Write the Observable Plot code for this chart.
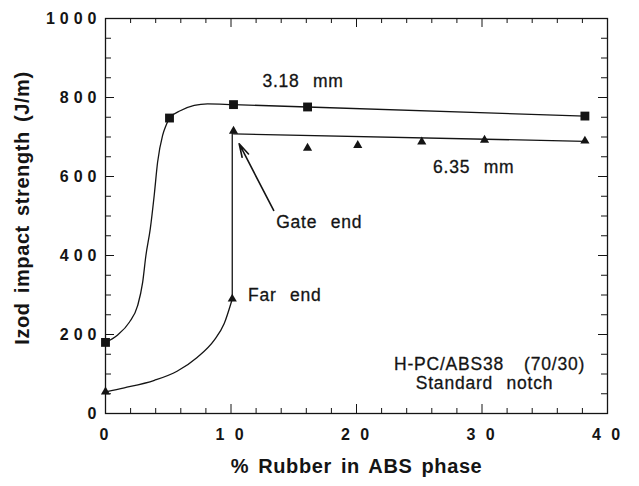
<!DOCTYPE html>
<html>
<head>
<meta charset="utf-8">
<script src="https://cdn.jsdelivr.net/npm/d3@7"></script>
<script src="https://cdn.jsdelivr.net/npm/@observablehq/plot@0.6"></script>
<style>
  body { margin: 0; background: #fff; }
  #chart svg { display: block; }
  #chart g[aria-label="y-axis tick label"] text { letter-spacing: 5px; }
  #chart g[aria-label="x-axis tick label"] text { letter-spacing: 3px; }
  #chart .title { letter-spacing: 0.6px; word-spacing: 3px; }
  #chart .note { letter-spacing: 0.8px; word-spacing: 1px; }
</style>
</head>
<body>
<div id="chart"></div>
<script>
// 3.18 mm bars: measured Izod strength vs. rubber content
const rubber318 = [0, 5.1, 10.2, 16.1, 38.2];
const izod318 = [180, 748, 782, 776, 753];
// smooth trend drawn through the 3.18 mm points
const trend318X = [0, 0.97, 1.9, 2.56, 2.96, 3.22, 3.57, 3.88, 4.15, 4.55, 4.82, 5.1, 6.0, 7.07, 8.13, 10.2, 16.1, 38.2];
const trend318Y = [180, 199, 231, 273, 332, 400, 468, 552, 636, 704, 729, 748, 767, 780, 784, 782, 776, 753];

// 6.35 mm bars: far-end and gate-end specimens
const rubber635 = [0, 10.1, 10.2, 16.1, 20.1, 25.2, 30.2, 38.2];
const izod635 = [55, 290, 715, 672, 679, 688, 692, 690];
// far-end trend up to 10 %, then the jump to the gate-end value
const farEndX = [0, 1.5, 3.9, 5.7, 7.3, 8.65, 9.45, 10.1];
const farEndY = [55, 65, 84, 107, 142, 185, 227, 290];
const jumpX = [10.1, 10.1];
const jumpY = [290, 715];
// straight fit through the gate-end points
const gateFitX = [10.2, 38.2];
const gateFitY = [708, 689];

// arrow pointing at the gate-end branch
const arrowFrom = [13.4, 514];
const arrowTo = [10.65, 683];

// annotation texts and where they sit (data units)
const noteText = ["3.18  mm", "6.35  mm", "Gate  end", "Far  end"];
const noteX = [12.5, 26.1, 13.6, 11.35];
const noteY = [840, 623, 484, 299];
const boxText = ["H-PC/ABS38   (70/30)", "Standard  notch"];
const boxX = [30.6, 30.2];
const boxY = [124, 77];

// axis ticks
const xMajor = [0, 10, 20, 30, 40];
const xMinor = [2, 4, 6, 8, 12, 14, 16, 18, 22, 24, 26, 28, 32, 34, 36, 38];
const yMajor = [0, 200, 400, 600, 800, 1000];
const yMinor = [50, 100, 150, 250, 300, 350, 450, 500, 550, 650, 700, 750, 850, 900, 950];

const xTitle = "% Rubber in ABS phase";
const yTitle = "Izod impact strength (J/m)";

const pts = (xs, ys) => xs.map((x, i) => ({x, y: ys[i]}));
const font = "'Liberation Sans', Arial, Helvetica, sans-serif";
const innerW = 639 - 105 - 32;
const innerH = 486 - 18 - 73;
const ink = "#141414";

const chart = Plot.plot({
  width: 639,
  height: 486,
  marginTop: 18,
  marginRight: 32,
  marginBottom: 73,
  marginLeft: 105,
  x: {domain: [0, 40]},
  y: {domain: [0, 1000]},
  style: {fontFamily: font, color: ink, background: "#fff"},
  marks: [
    Plot.frame({stroke: ink, strokeWidth: 1.3}),
    // inward ticks on all four sides
    Plot.ruleX(xMinor, {x: d => d, insetTop: innerH - 5, stroke: ink}),
    Plot.ruleX(xMajor, {x: d => d, insetTop: innerH - 9, stroke: ink}),
    Plot.ruleX(xMinor, {x: d => d, insetBottom: innerH - 5, stroke: ink}),
    Plot.ruleX(xMajor, {x: d => d, insetBottom: innerH - 9, stroke: ink}),
    Plot.ruleY(yMinor, {y: d => d, insetRight: innerW - 6, stroke: ink}),
    Plot.ruleY(yMajor, {y: d => d, insetRight: innerW - 9, stroke: ink}),
    Plot.ruleY(yMinor, {y: d => d, insetLeft: innerW - 6, stroke: ink}),
    Plot.ruleY(yMajor, {y: d => d, insetLeft: innerW - 9, stroke: ink}),
    Plot.axisX(xMajor, {anchor: "bottom", tickSize: 0, tickPadding: 15, label: null,
      tickFormat: d => String(d).split("").join(" "), fontSize: 16, fontWeight: "bold"}),
    Plot.axisY(yMajor, {anchor: "left", tickSize: 0, tickPadding: 4, label: null,
      tickFormat: d => String(d), fontSize: 16, fontWeight: "bold"}),
    // axis titles
    Plot.text([xTitle], {frameAnchor: "bottom", dy: 59, text: d => d, fontSize: 20,
      fontWeight: "bold", fill: ink, className: "title"}),
    Plot.text([yTitle], {frameAnchor: "left", textAnchor: "middle", dx: -83, dy: -8, rotate: -90,
      text: d => d, fontSize: 20, fontWeight: "bold", fill: ink, className: "title"}),
    // trend lines
    Plot.line(pts(trend318X, trend318Y), {x: "x", y: "y", curve: "monotone-x", stroke: ink, strokeWidth: 1.3}),
    Plot.line(pts(farEndX, farEndY), {x: "x", y: "y", curve: "monotone-x", stroke: ink, strokeWidth: 1.3}),
    Plot.line(pts(jumpX, jumpY), {x: "x", y: "y", stroke: ink, strokeWidth: 1.3}),
    Plot.line(pts(gateFitX, gateFitY), {x: "x", y: "y", stroke: ink, strokeWidth: 1.3}),
    // data points
    Plot.dot(pts(rubber318, izod318), {x: "x", y: "y", symbol: "square", r: 5, fill: ink, stroke: null}),
    Plot.dot(pts(rubber635, izod635), {x: "x", y: "y", symbol: "triangle", r: 3.4, fill: ink, stroke: null}),
    // arrow to the gate-end line
    Plot.arrow([{x1: arrowFrom[0], y1: arrowFrom[1], x2: arrowTo[0], y2: arrowTo[1]}],
      {x1: "x1", y1: "y1", x2: "x2", y2: "y2", headLength: 13, headAngle: 30, stroke: ink, strokeWidth: 1.6}),
    // annotations
    Plot.text(noteText.map((t, i) => ({t, x: noteX[i], y: noteY[i]})),
      {x: "x", y: "y", text: "t", textAnchor: "start", fontSize: 17.5, fill: ink,
       stroke: ink, strokeWidth: 0.3, className: "note"}),
    Plot.text(boxText.map((t, i) => ({t, x: boxX[i], y: boxY[i]})),
      {x: "x", y: "y", text: "t", textAnchor: "middle", fontSize: 17.5, fill: ink,
       stroke: ink, strokeWidth: 0.3, className: "note"})
  ]
});

document.getElementById("chart").appendChild(chart);
</script>
</body>
</html>
